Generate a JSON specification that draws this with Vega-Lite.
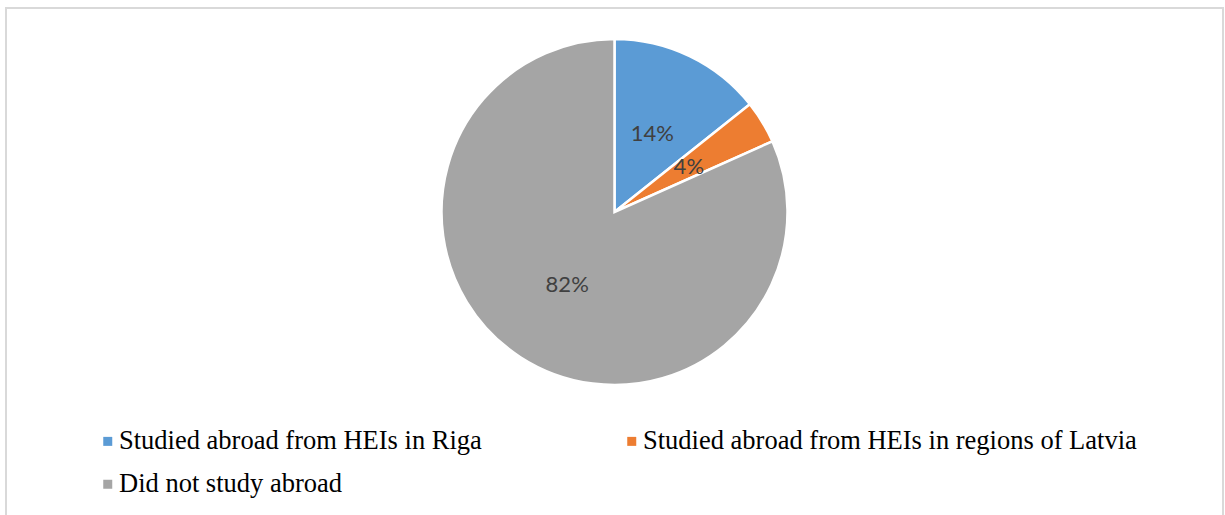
{
  "$schema": "https://vega.github.io/schema/vega-lite/v6.json",
  "width": 1217,
  "height": 507,
  "autosize": {"type": "none"},
  "padding": {"left": 6, "top": 8, "right": 2, "bottom": 0},
  "background": "white",
  "view": {"stroke": "#d9d9d9", "strokeWidth": 2, "strokeDash": [1724, 1217, 507], "fill": "white"},
  "data": {
    "values": [
      {"category": "Studied abroad from HEIs in Riga", "share": 14.3, "label": "14%", "rank": 1},
      {"category": "Studied abroad from HEIs in regions of Latvia", "share": 4.0, "label": "4%", "rank": 2},
      {"category": "Did not study abroad", "share": 81.7, "label": "82%", "rank": 3}
    ]
  },
  "encoding": {
    "theta": {"field": "share", "type": "quantitative", "stack": true},
    "order": {"field": "rank", "type": "quantitative"}
  },
  "layer": [
    {
      "mark": {"type": "arc", "outerRadius": 173, "stroke": "white", "strokeWidth": 2.5, "y": {"expr": "height/2 - 49.5"}},
      "encoding": {
        "color": {
          "field": "category",
          "type": "nominal",
          "scale": {
            "domain": ["Studied abroad from HEIs in Riga", "Studied abroad from HEIs in regions of Latvia", "Did not study abroad"],
            "range": ["#5b9bd5", "#ed7d31", "#a5a5a5"]
          },
          "legend": {
            "title": null,
            "orient": "none",
            "legendX": 88.5,
            "legendY": 420,
            "direction": "horizontal",
            "columns": 2,
            "columnPadding": 136,
            "rowPadding": 16,
            "padding": 0,
            "symbolType": "square",
            "symbolSize": 81,
            "symbolStrokeWidth": 0,
            "symbolOffset": 0,
            "labelOffset": -2,
            "labelFont": "Liberation Serif",
            "labelFontSize": 26.5,
            "labelColor": "#000000",
            "labelLimit": 0
          }
        }
      }
    },
    {
      "mark": {"type": "text", "radius": 87, "font": "Lato", "fontSize": 22, "color": "#404040", "y": {"expr": "height/2 - 49.5"}},
      "encoding": {
        "text": {"field": "label", "type": "nominal"}
      }
    }
  ]
}
